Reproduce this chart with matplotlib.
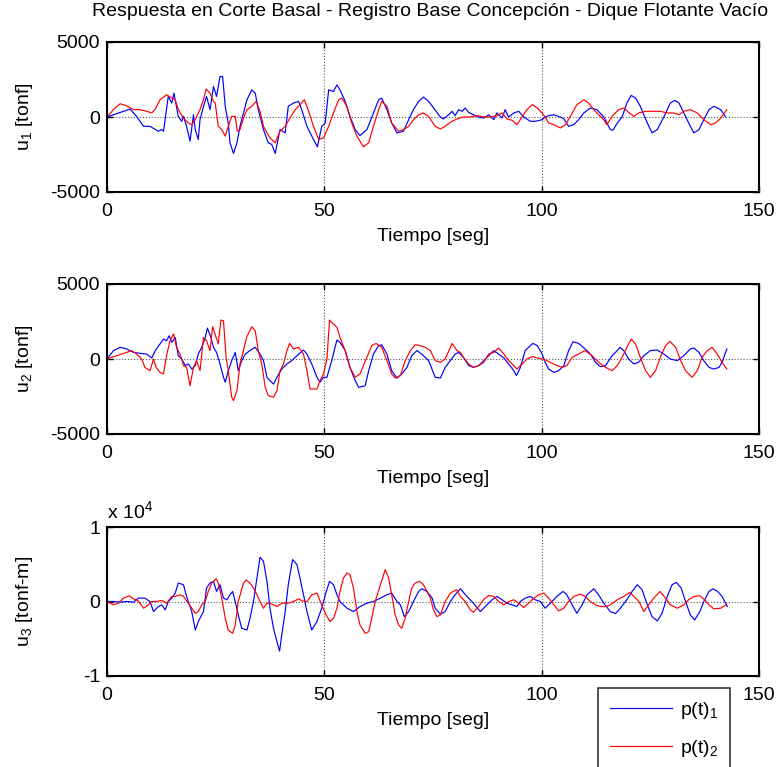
import numpy as np
import matplotlib
matplotlib.use("Agg")
import matplotlib.pyplot as plt
from matplotlib.ticker import FuncFormatter

# --- data (time [s], value) ---
u1_p1 = [(0.0, 0), (5.3, 530), (6.8, 40), (8.4, -620), (9.9, -620), (11.8, -950), (12.6, -840),
         (13.0, -950), (14.1, 1370), (14.9, 930), (15.4, 1590), (16.4, 40), (17.2, -290), (17.6, 40),
         (18.3, -620), (19.1, -1610), (19.9, 150), (20.3, -840), (21.0, -1500), (21.4, -180),
         (22.2, 710), (22.9, 1370), (23.7, 490), (24.5, 2030), (25.2, 1370), (26.0, 2700),
         (26.6, 2700), (27.2, 710), (27.9, -400), (28.3, -1720), (29.1, -2430), (29.9, -1720),
         (30.6, -620), (31.4, 270), (32.2, 1150), (33.3, 1810), (34.1, 1590), (34.8, 490),
         (36.0, -840), (37.1, -1720), (37.9, -1830), (38.7, -2430), (39.8, -840), (41.0, -1060),
         (41.7, 710), (42.9, 930), (44.1, 1040), (44.8, 490), (46.0, -620), (47.5, -1500),
         (48.4, -1990), (49.4, -620), (50.2, -400), (51.0, 1810), (52.1, 1700), (52.9, 2140),
         (53.6, 1810), (54.8, 1040), (55.9, 40), (57.1, -840), (58.2, -1240), (59.8, -840),
         (61.3, 270), (62.5, 1150), (63.2, 1260), (64.4, 490), (65.5, -400), (66.7, -1060),
         (68.2, -950), (69.4, -180), (70.5, 490), (71.7, 1040), (72.8, 1330), (74.0, 1040),
         (76.7, 0), (77.4, -130), (78.6, 150), (79.4, 380), (80.1, 90), (80.9, 490), (81.7, 380),
         (82.4, 600), (83.2, 310), (84.3, 150), (85.5, 0), (86.7, -70), (87.8, 150), (89.0, -180),
         (89.7, 270), (90.9, -70), (91.6, 490), (92.4, 0), (93.6, 270), (94.7, 380), (95.9, 0),
         (97.4, -290), (98.5, -290), (100.1, -180), (100.8, 0), (101.6, 90), (102.8, 150),
         (104.3, 0), (105.1, -130), (106.2, -620), (107.4, -510), (108.5, -180), (109.7, 270),
         (111.2, 600), (112.7, 490), (114.3, 0), (115.8, -840), (116.4, -880), (117.4, -400),
         (118.5, 0), (119.6, 930), (120.6, 1440), (121.6, 1260), (122.7, 710), (124.3, -400),
         (125.4, -1060), (126.6, -840), (128.1, 0), (129.6, 930), (130.6, 1110), (131.6, 930),
         (132.7, 270), (134.2, -620), (135.0, -1060), (136.2, -840), (137.3, -180), (138.5, 490),
         (139.6, 710), (141.2, 490), (142.3, 0)]
u1_p2 = [(0.0, 0), (1.5, 490), (3.0, 880), (4.5, 750), (6.1, 490), (7.6, 490), (9.1, 380),
         (10.3, 270), (11.1, 530), (12.2, 1150), (13.7, 1480), (14.9, 1260), (15.7, 1150),
         (16.4, 490), (17.6, -70), (18.7, -400), (19.5, -510), (20.3, -180), (21.4, 490),
         (22.2, 1150), (22.8, 1860), (23.7, 1590), (24.5, 1040), (24.9, 930), (25.6, -620),
         (26.4, -840), (27.2, -1280), (27.9, -620), (28.7, 40), (29.5, 40), (30.0, -950),
         (30.6, -840), (31.4, -70), (32.2, 490), (33.3, 710), (34.3, 1040), (35.2, 380),
         (36.0, -620), (36.8, -1060), (37.5, -1390), (38.7, -1720), (39.8, -950), (41.0, -620),
         (42.1, -70), (43.3, 490), (44.4, 820), (45.4, 1150), (46.4, 380), (47.5, -620),
         (48.7, -1500), (49.8, -1390), (51.0, -620), (52.1, 270), (53.3, 1150), (54.0, 1260),
         (55.2, 710), (56.3, -400), (57.5, -1280), (59.0, -1990), (60.2, -1720), (61.3, -620),
         (62.5, 490), (63.2, 1040), (64.4, 710), (65.5, -400), (67.1, -950), (68.2, -840),
         (69.4, -620), (70.5, -180), (71.7, 150), (72.8, 270), (74.0, 40), (75.5, -620),
         (76.7, -800), (77.8, -620), (79.0, -350), (80.5, -130), (82.0, 0), (83.6, 0), (85.1, 90),
         (86.7, 0), (88.2, 0), (89.7, 90), (90.9, 270), (92.0, -130), (93.2, -220), (94.3, -510),
         (95.5, 0), (96.6, 490), (97.8, 820), (99.0, 600), (100.1, 270), (100.8, 0), (101.6, -400),
         (102.8, -510), (104.3, -730), (105.5, -510), (106.6, 40), (108.1, 820), (109.7, 1150),
         (110.8, 930), (112.0, 490), (113.1, 150), (114.3, -180), (115.0, -510), (116.2, 40),
         (117.7, 490), (118.9, 600), (120.0, 310), (121.2, 40), (122.3, 270), (123.9, 380),
         (125.4, 380), (127.3, 380), (128.9, 270), (130.4, 270), (131.6, 150), (132.7, 380),
         (134.2, 490), (135.8, 270), (137.3, -180), (138.9, -510), (140.0, -400), (141.2, -70),
         (142.6, 490)]

u2_p1 = [(0.0, 0), (1.5, 560), (3.0, 780), (4.5, 670), (6.1, 440), (7.6, 380), (9.1, 330),
         (10.3, 70), (11.1, 560), (12.2, 1000), (13.0, 1330), (13.7, 1220), (14.3, 1550),
         (14.9, 1110), (15.7, 1440), (16.4, 220), (17.2, 0), (18.0, -440), (18.7, -330),
         (19.5, -670), (20.3, -440), (21.0, 330), (21.8, 780), (22.6, 1440), (23.1, 2060),
         (23.9, 1440), (24.5, 780), (25.2, 440), (26.0, -330), (26.8, -1220), (27.2, -1550),
         (27.9, -780), (28.7, -110), (29.5, 440), (30.2, -780), (31.0, -110), (31.8, 330),
         (32.9, 560), (34.1, 780), (35.2, 330), (36.0, -110), (36.8, -1220), (37.5, -1440),
         (38.3, -1670), (39.1, -1220), (40.2, -670), (41.4, -330), (42.5, -110), (43.7, 220),
         (45.2, 600), (46.0, 330), (47.1, -330), (48.3, -1220), (49.0, -1550), (49.8, -1220),
         (50.6, -1220), (51.7, -110), (52.9, 1270), (53.6, 1110), (54.8, 560), (55.9, -560),
         (57.1, -1440), (57.9, -1890), (59.4, -1780), (60.2, -780), (61.3, 330), (62.5, 890),
         (63.2, 950), (64.4, 330), (65.5, -780), (66.7, -1270), (67.8, -1000), (69.0, -560),
         (70.1, 220), (71.3, 560), (72.4, 330), (74.0, -110), (75.5, -1220), (76.7, -1270),
         (77.8, -560), (79.0, -110), (80.1, 330), (80.9, 440), (82.0, 110), (83.2, -440),
         (84.3, -560), (85.5, -440), (86.7, -110), (87.8, 220), (89.0, 560), (90.1, 330),
         (91.3, 70), (92.4, -330), (93.6, -780), (94.2, -1110), (95.1, -560), (96.2, 560),
         (97.4, 890), (98.0, 1040), (99.0, 890), (100.1, 330), (100.8, -220), (101.6, -670),
         (102.8, -890), (103.9, -780), (105.1, -440), (106.2, 560), (107.2, 1150), (108.5, 1040),
         (110.0, 670), (111.2, 330), (112.4, -220), (113.5, -510), (114.7, -440), (116.2, 220),
         (117.4, 560), (118.0, 780), (118.9, 560), (120.0, 0), (121.2, -330), (122.3, -220),
         (123.5, 220), (125.0, 560), (126.6, 600), (128.1, 330), (129.6, 0), (131.2, -110),
         (132.7, 220), (134.2, 670), (135.0, 730), (136.2, 440), (137.3, -110), (138.5, -560),
         (139.6, -670), (140.8, -560), (141.5, -220), (142.6, 670)]
u2_p2 = [(0.0, 0), (1.5, 160), (3.0, 290), (4.5, 440), (5.7, 560), (6.8, 330), (8.0, 0),
         (8.7, -560), (9.9, -780), (10.7, 0), (11.3, -560), (12.2, -890), (13.0, -1000),
         (13.7, 220), (14.5, 1220), (15.3, 1670), (16.0, 780), (16.8, 330), (17.6, -440),
         (18.3, -560), (19.1, -1780), (19.9, -560), (20.6, -110), (21.4, -780), (22.2, 1440),
         (22.9, 1220), (23.7, 560), (24.3, 2150), (25.1, 1440), (25.6, 1000), (26.2, 2600),
         (26.8, 2550), (27.4, 110), (27.9, -780), (28.7, -2550), (29.1, -2780), (29.9, -2110),
         (30.6, -330), (31.4, 560), (32.1, 1440), (33.3, 2150), (34.1, 1890), (34.8, 560),
         (35.6, -330), (36.4, -1890), (37.1, -2440), (38.3, -2550), (39.1, -2110), (39.8, -780),
         (40.6, -330), (41.4, 560), (42.0, 1040), (42.9, 670), (44.1, 780), (45.2, 330),
         (46.0, -780), (46.7, -2000), (48.3, -2000), (49.0, -1440), (49.8, -1000), (50.6, 0),
         (51.2, 2600), (52.1, 2330), (52.9, 2110), (53.6, 1440), (54.8, 560), (55.9, -560),
         (57.1, -1220), (58.2, -1000), (59.8, 110), (60.9, 890), (61.9, 1040), (63.2, 780),
         (64.4, -110), (65.5, -1000), (66.3, -1270), (67.5, -1110), (68.6, -110), (69.8, 560),
         (70.9, 950), (72.1, 890), (73.2, 780), (74.4, 560), (75.5, -110), (76.7, -220),
         (77.8, 0), (79.0, 780), (79.4, 1040), (80.5, 560), (81.3, 440), (82.0, 110),
         (83.2, -330), (84.3, -560), (85.5, -440), (86.7, -220), (87.8, 330), (89.0, 440),
         (90.1, 730), (91.3, 330), (92.4, -110), (93.6, -440), (94.3, -670), (95.5, -330),
         (96.6, 0), (97.8, 160), (99.0, 70), (100.1, 0), (101.2, -110), (102.4, -290),
         (103.5, -440), (104.7, -560), (105.8, -440), (107.0, 110), (108.5, 330), (110.0, 560),
         (111.6, 220), (113.1, -220), (114.7, -560), (116.2, -780), (117.4, -440), (118.5, 110),
         (119.6, 780), (120.6, 1330), (121.6, 1000), (122.7, 110), (123.9, -780), (125.0, -1220),
         (126.2, -780), (127.3, 110), (128.5, 890), (129.5, 1180), (130.8, 780), (132.0, -110),
         (133.1, -780), (134.6, -1220), (135.8, -780), (136.9, 110), (138.1, 560), (139.2, 780),
         (140.4, 330), (141.5, -220), (142.6, -670)]

u3_p1 = [(0.0, 0), (1.5, 0), (3.0, -90), (4.5, 0), (6.1, -90), (7.2, 450), (8.7, 450), (9.9, 0),
         (10.7, -1350), (11.8, -680), (12.6, -450), (13.4, -1130), (14.1, 0), (14.9, 450),
         (15.7, 1130), (16.4, 2480), (17.6, 2250), (18.2, 900), (18.7, 0), (19.5, -1350),
         (20.3, -3830), (21.0, -2700), (21.4, -2250), (22.2, -1350), (22.9, 1800), (23.7, 2480),
         (24.5, 2700), (25.2, 1350), (26.0, 2250), (26.8, 450), (27.6, 230), (28.3, 900),
         (28.9, 1350), (29.5, 0), (30.2, -1800), (31.0, -3600), (32.2, -3830), (32.9, -2250),
         (33.7, 0), (34.5, 3150), (35.2, 5940), (36.0, 5400), (36.8, 2700), (37.5, -900),
         (38.3, -3600), (39.1, -5400), (39.7, -6660), (40.2, -4500), (41.0, -1350), (41.7, 2250),
         (42.7, 5630), (43.7, 4950), (44.4, 3150), (45.2, 900), (46.0, -1350), (47.1, -3830),
         (48.3, -2700), (49.4, -900), (50.4, 1260), (51.2, 2700), (52.1, 2250), (52.9, 900),
         (53.6, 0), (55.2, -900), (56.7, -1350), (58.2, -680), (59.8, -230), (61.3, 0),
         (62.9, 450), (64.4, 900), (65.5, 1130), (66.7, 0), (67.5, -450), (68.4, -2030),
         (69.4, -1350), (70.5, 0), (71.7, 1350), (72.4, 1710), (73.6, 1350), (74.8, 450),
         (75.5, -900), (76.7, -1710), (77.8, -1350), (79.0, 0), (80.1, 900), (81.3, 1710),
         (82.8, 680), (84.3, -230), (85.9, -1350), (87.0, -680), (88.6, 230), (89.7, 680),
         (90.9, 230), (92.0, -230), (93.2, -450), (94.3, -680), (95.1, 0), (96.2, 450),
         (97.4, 680), (98.5, 230), (99.7, 0), (100.8, -900), (102.0, -230), (103.5, 680),
         (104.9, 1350), (105.8, 900), (107.0, -450), (108.1, -1580), (109.3, -450), (110.4, 900),
         (112.0, 1710), (113.1, 900), (114.3, -230), (115.8, -1350), (117.0, -1620),
         (118.1, -900), (119.6, 230), (120.8, 1350), (122.0, 2250), (123.1, 1580), (124.3, -450),
         (125.4, -2030), (126.6, -2610), (127.7, -1580), (128.9, 680), (130.0, 2250),
         (131.0, 2570), (132.1, 1800), (133.1, 0), (134.2, -1800), (135.2, -2480), (136.4, -1350),
         (137.3, 0), (138.5, 1350), (139.4, 1710), (140.5, 1350), (141.5, 680), (142.7, -680)]
u3_p2 = [(0.0, 0), (1.5, -450), (2.6, -230), (3.8, 450), (5.1, 770), (6.1, 360), (7.2, 90),
         (8.4, -900), (9.5, -450), (10.3, 0), (11.4, 0), (12.6, 140), (13.7, -230), (14.9, 680),
         (15.7, 680), (16.8, 900), (17.6, 680), (18.7, -230), (19.5, -900), (20.3, -1580),
         (21.0, -1350), (21.8, -450), (22.6, 0), (23.3, 1350), (24.1, 2480), (25.1, 3060),
         (25.6, 2480), (26.4, 450), (27.2, -2250), (27.9, -3830), (28.9, -4280), (29.5, -3150),
         (30.2, 0), (31.4, 2480), (32.0, 2880), (32.9, 2480), (33.7, 1800), (34.5, 900),
         (35.2, 0), (36.0, -900), (36.8, -230), (37.5, -230), (38.3, -450), (39.1, -680),
         (40.2, -230), (41.7, -230), (42.9, 0), (44.1, 360), (44.8, 90), (46.0, 0), (47.1, 900),
         (48.3, 1130), (49.4, -450), (50.4, -1800), (51.3, -2700), (52.1, -2250), (52.9, -900),
         (53.6, 1350), (54.4, 3150), (55.2, 3830), (55.9, 3600), (56.7, 1800), (57.5, -1350),
         (58.2, -3150), (59.4, -4280), (60.2, -4050), (60.9, -2250), (61.7, 0), (62.9, 2250),
         (64.0, 4280), (64.8, 3150), (65.5, 900), (66.3, -1800), (67.1, -3150), (67.8, -3600),
         (68.6, -2250), (69.4, 0), (70.1, 1800), (70.9, 2480), (71.9, 2700), (72.8, 2250),
         (73.6, 1350), (74.4, 450), (75.1, -1100), (75.9, -2030), (76.7, -1800), (77.8, 0),
         (79.0, 1130), (80.4, 1580), (81.3, 680), (82.4, 0), (83.6, -1130), (84.3, -1440),
         (85.5, -680), (86.6, 230), (87.8, 810), (89.0, 680), (90.1, 0), (91.3, -450), (92.4, 0),
         (93.6, 230), (94.7, -230), (95.9, -810), (97.0, -230), (98.2, 450), (99.3, 900),
         (100.5, 1130), (101.6, 450), (102.8, -450), (103.9, -1260), (105.1, -900), (106.2, 0),
         (107.4, 680), (108.9, 990), (110.0, 680), (111.2, 0), (112.4, -450), (113.5, -680),
         (114.7, -680), (115.8, -450), (117.4, 230), (118.9, 680), (120.3, 1220), (121.2, 680),
         (122.4, 0), (123.5, -1350), (124.6, -450), (125.8, 450), (127.2, 1350), (128.5, 450),
         (129.6, -450), (131.2, -900), (132.7, -450), (133.8, 230), (135.0, 680), (136.4, 770),
         (137.5, 230), (138.5, -450), (139.6, -990), (141.2, -900), (142.6, -360)]

title = "Respuesta en Corte Basal - Registro Base Concepción - Dique Flotante Vacío"
ylabels = ["u$_1$ [tonf]", "u$_2$ [tonf]", "u$_3$ [tonf-m]"]
legend_labels = ["p(t)$_1$", "p(t)$_2$"]
xticks = [0, 50, 100, 150]

plt.rcParams["font.family"] = ["Liberation Sans", "DejaVu Sans"]
plt.rcParams["mathtext.default"] = "regular"
plt.rcParams["font.size"] = 14
plt.rcParams["axes.unicode_minus"] = False

fig = plt.figure(figsize=(7.79, 7.67), dpi=100)
W, H = 779, 767
boxes = [(107, 42, 652, 150), (107, 284, 652, 150), (107, 527, 652, 149)]

series = [(u1_p1, u1_p2), (u2_p1, u2_p2), (u3_p1, u3_p2)]
ylims = [(-5000, 5000), (-5000, 5000), (-1e4, 1e4)]
yticks = [[-5000, 0, 5000], [-5000, 0, 5000], [-1e4, 0, 1e4]]

axes = []
for i, (x0, y0, w, h) in enumerate(boxes):
    ax = fig.add_axes([x0 / W, 1 - (y0 + h) / H, w / W, h / H])
    a, b = series[i]
    ta, va = np.array(a).T
    tb, vb = np.array(b).T
    l1, = ax.plot(ta, va, color="#0000ff", lw=0.85)
    l2, = ax.plot(tb, vb, color="#ff0000", lw=0.85)
    ax.set_xlim(0, 150)
    ax.set_ylim(*ylims[i])
    ax.set_xticks(xticks)
    ax.set_yticks(yticks[i])
    ax.grid(True, linestyle=":", color="0.35", linewidth=0.8)
    ax.tick_params(direction="in", top=True, right=True, length=4, width=1)
    ax.tick_params(axis="y", pad=5)
    ax.tick_params(axis="x", pad=8)
    for s in ax.spines.values():
        s.set_linewidth(1.5)
    ax.set_xlabel("Tiempo [seg]", labelpad=6)
    ax.set_ylabel(ylabels[i])
    ax.yaxis.set_label_coords(-0.11, 0.5)
    axes.append(ax)

axes[2].yaxis.set_major_formatter(FuncFormatter(lambda v, p: f"{v / 1e4:g}"))
axes[2].text(0.0, 1.03, "x 10$^{4}$", transform=axes[2].transAxes, ha="left", va="bottom")

fig.text(430 / W, 1 - 12 / H, title, ha="center", va="center", fontsize=14)

leg = fig.legend([l1, l2], legend_labels, loc="upper left",
                 bbox_to_anchor=(598 / W, 1 - 688 / H), frameon=True, fancybox=False,
                 handlelength=3.2, handletextpad=0.4, labelspacing=0.9, borderpad=0.6,
                 borderaxespad=0)
leg.get_frame().set_edgecolor("black")
leg.get_frame().set_linewidth(1.2)

fig.savefig("out.png", dpi=100)
